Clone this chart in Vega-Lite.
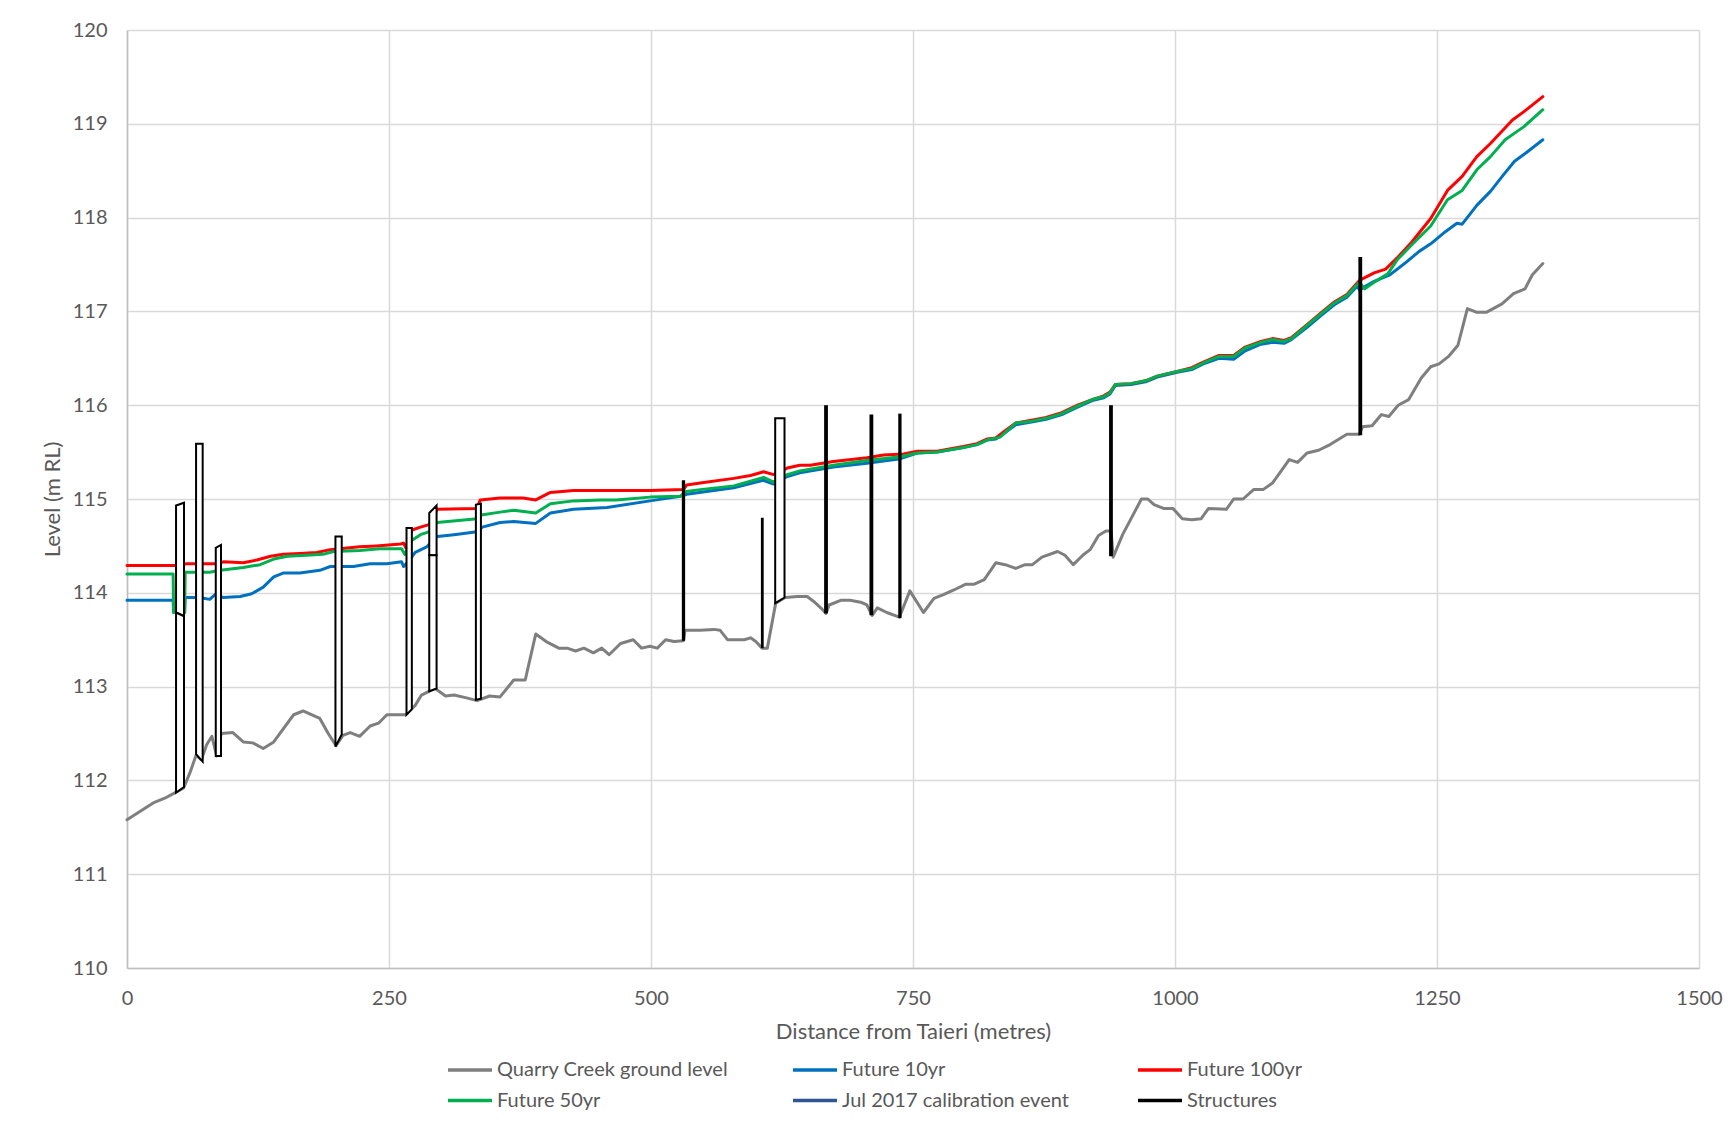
{
  "$schema": "https://vega.github.io/schema/vega-lite/v6.json",
  "width": 1572,
  "height": 938,
  "autosize": {"type": "none"},
  "padding": {"left": 127, "top": 30, "right": 36, "bottom": 162},
  "background": "white",
  "config": {
    "font": "Lato",
    "view": {"stroke": null},
    "axis": {
      "labelFont": "Lato", "titleFont": "Lato",
      "labelColor": "#595959", "titleColor": "#595959",
      "labelFontSize": 20, "titleFontSize": 22, "titleFontWeight": "normal",
      "gridColor": "#d9d9d9", "gridWidth": 1.5,
      "domainColor": "#bfbfbf", "domainWidth": 1.5,
      "ticks": false, "labelFlush": false
    }
  },
  "datasets": {
    "lines": [
      {"series":"Quarry Creek ground level","dist":0,"level":111.58},{"series":"Quarry Creek ground level","dist":25,"level":111.76},{"series":"Quarry Creek ground level","dist":36,"level":111.81},{"series":"Quarry Creek ground level","dist":46,"level":111.87},{"series":"Quarry Creek ground level","dist":54,"level":111.92},{"series":"Quarry Creek ground level","dist":60,"level":112.08},{"series":"Quarry Creek ground level","dist":66,"level":112.27},{"series":"Quarry Creek ground level","dist":71,"level":112.22},{"series":"Quarry Creek ground level","dist":76,"level":112.38},{"series":"Quarry Creek ground level","dist":81,"level":112.47},{"series":"Quarry Creek ground level","dist":85.6,"level":112.26},{"series":"Quarry Creek ground level","dist":90,"level":112.5},{"series":"Quarry Creek ground level","dist":101,"level":112.51},{"series":"Quarry Creek ground level","dist":111,"level":112.41},{"series":"Quarry Creek ground level","dist":120,"level":112.4},{"series":"Quarry Creek ground level","dist":130,"level":112.34},{"series":"Quarry Creek ground level","dist":140,"level":112.41},{"series":"Quarry Creek ground level","dist":159,"level":112.7},{"series":"Quarry Creek ground level","dist":168,"level":112.74},{"series":"Quarry Creek ground level","dist":176,"level":112.7},{"series":"Quarry Creek ground level","dist":184,"level":112.66},{"series":"Quarry Creek ground level","dist":192,"level":112.5},{"series":"Quarry Creek ground level","dist":199.5,"level":112.37},{"series":"Quarry Creek ground level","dist":206,"level":112.48},{"series":"Quarry Creek ground level","dist":213,"level":112.51},{"series":"Quarry Creek ground level","dist":222,"level":112.47},{"series":"Quarry Creek ground level","dist":232,"level":112.58},{"series":"Quarry Creek ground level","dist":240,"level":112.61},{"series":"Quarry Creek ground level","dist":248,"level":112.7},{"series":"Quarry Creek ground level","dist":256,"level":112.7},{"series":"Quarry Creek ground level","dist":266,"level":112.7},{"series":"Quarry Creek ground level","dist":275,"level":112.8},{"series":"Quarry Creek ground level","dist":281,"level":112.91},{"series":"Quarry Creek ground level","dist":290,"level":112.96},{"series":"Quarry Creek ground level","dist":294,"level":112.98},{"series":"Quarry Creek ground level","dist":304,"level":112.9},{"series":"Quarry Creek ground level","dist":312,"level":112.91},{"series":"Quarry Creek ground level","dist":324,"level":112.88},{"series":"Quarry Creek ground level","dist":334,"level":112.85},{"series":"Quarry Creek ground level","dist":346,"level":112.9},{"series":"Quarry Creek ground level","dist":356,"level":112.89},{"series":"Quarry Creek ground level","dist":369,"level":113.07},{"series":"Quarry Creek ground level","dist":380,"level":113.07},{"series":"Quarry Creek ground level","dist":390,"level":113.56},{"series":"Quarry Creek ground level","dist":400,"level":113.48},{"series":"Quarry Creek ground level","dist":412,"level":113.41},{"series":"Quarry Creek ground level","dist":420,"level":113.41},{"series":"Quarry Creek ground level","dist":428,"level":113.38},{"series":"Quarry Creek ground level","dist":436,"level":113.41},{"series":"Quarry Creek ground level","dist":445,"level":113.36},{"series":"Quarry Creek ground level","dist":453,"level":113.41},{"series":"Quarry Creek ground level","dist":460,"level":113.34},{"series":"Quarry Creek ground level","dist":471,"level":113.46},{"series":"Quarry Creek ground level","dist":483,"level":113.5},{"series":"Quarry Creek ground level","dist":491,"level":113.41},{"series":"Quarry Creek ground level","dist":499,"level":113.43},{"series":"Quarry Creek ground level","dist":506,"level":113.41},{"series":"Quarry Creek ground level","dist":514,"level":113.5},{"series":"Quarry Creek ground level","dist":522,"level":113.48},{"series":"Quarry Creek ground level","dist":531,"level":113.49},{"series":"Quarry Creek ground level","dist":532.5,"level":113.6},{"series":"Quarry Creek ground level","dist":547,"level":113.6},{"series":"Quarry Creek ground level","dist":560,"level":113.61},{"series":"Quarry Creek ground level","dist":566,"level":113.6},{"series":"Quarry Creek ground level","dist":573,"level":113.5},{"series":"Quarry Creek ground level","dist":580,"level":113.5},{"series":"Quarry Creek ground level","dist":589,"level":113.5},{"series":"Quarry Creek ground level","dist":595,"level":113.52},{"series":"Quarry Creek ground level","dist":600,"level":113.48},{"series":"Quarry Creek ground level","dist":606,"level":113.41},{"series":"Quarry Creek ground level","dist":611,"level":113.41},{"series":"Quarry Creek ground level","dist":619,"level":113.89},{"series":"Quarry Creek ground level","dist":628,"level":113.95},{"series":"Quarry Creek ground level","dist":640,"level":113.96},{"series":"Quarry Creek ground level","dist":649,"level":113.96},{"series":"Quarry Creek ground level","dist":655,"level":113.91},{"series":"Quarry Creek ground level","dist":662,"level":113.84},{"series":"Quarry Creek ground level","dist":667,"level":113.78},{"series":"Quarry Creek ground level","dist":670,"level":113.87},{"series":"Quarry Creek ground level","dist":681,"level":113.92},{"series":"Quarry Creek ground level","dist":690,"level":113.92},{"series":"Quarry Creek ground level","dist":700,"level":113.9},{"series":"Quarry Creek ground level","dist":706,"level":113.87},{"series":"Quarry Creek ground level","dist":711,"level":113.76},{"series":"Quarry Creek ground level","dist":716,"level":113.84},{"series":"Quarry Creek ground level","dist":725,"level":113.79},{"series":"Quarry Creek ground level","dist":737,"level":113.74},{"series":"Quarry Creek ground level","dist":747,"level":114.02},{"series":"Quarry Creek ground level","dist":760,"level":113.79},{"series":"Quarry Creek ground level","dist":770,"level":113.94},{"series":"Quarry Creek ground level","dist":779,"level":113.98},{"series":"Quarry Creek ground level","dist":789,"level":114.03},{"series":"Quarry Creek ground level","dist":800,"level":114.09},{"series":"Quarry Creek ground level","dist":808,"level":114.09},{"series":"Quarry Creek ground level","dist":818,"level":114.14},{"series":"Quarry Creek ground level","dist":829,"level":114.32},{"series":"Quarry Creek ground level","dist":838,"level":114.3},{"series":"Quarry Creek ground level","dist":848,"level":114.26},{"series":"Quarry Creek ground level","dist":857,"level":114.3},{"series":"Quarry Creek ground level","dist":864,"level":114.3},{"series":"Quarry Creek ground level","dist":873,"level":114.38},{"series":"Quarry Creek ground level","dist":888,"level":114.44},{"series":"Quarry Creek ground level","dist":895,"level":114.4},{"series":"Quarry Creek ground level","dist":903,"level":114.3},{"series":"Quarry Creek ground level","dist":912,"level":114.4},{"series":"Quarry Creek ground level","dist":919,"level":114.46},{"series":"Quarry Creek ground level","dist":927,"level":114.61},{"series":"Quarry Creek ground level","dist":934,"level":114.66},{"series":"Quarry Creek ground level","dist":939,"level":114.66},{"series":"Quarry Creek ground level","dist":941,"level":114.38},{"series":"Quarry Creek ground level","dist":950,"level":114.62},{"series":"Quarry Creek ground level","dist":968,"level":115.0},{"series":"Quarry Creek ground level","dist":974,"level":115.0},{"series":"Quarry Creek ground level","dist":980,"level":114.94},{"series":"Quarry Creek ground level","dist":989,"level":114.9},{"series":"Quarry Creek ground level","dist":998,"level":114.9},{"series":"Quarry Creek ground level","dist":1007,"level":114.79},{"series":"Quarry Creek ground level","dist":1016,"level":114.78},{"series":"Quarry Creek ground level","dist":1025,"level":114.79},{"series":"Quarry Creek ground level","dist":1032,"level":114.9},{"series":"Quarry Creek ground level","dist":1049,"level":114.89},{"series":"Quarry Creek ground level","dist":1056,"level":115.0},{"series":"Quarry Creek ground level","dist":1065,"level":115.0},{"series":"Quarry Creek ground level","dist":1075,"level":115.1},{"series":"Quarry Creek ground level","dist":1084,"level":115.1},{"series":"Quarry Creek ground level","dist":1093,"level":115.17},{"series":"Quarry Creek ground level","dist":1109,"level":115.42},{"series":"Quarry Creek ground level","dist":1117,"level":115.39},{"series":"Quarry Creek ground level","dist":1126,"level":115.49},{"series":"Quarry Creek ground level","dist":1137,"level":115.52},{"series":"Quarry Creek ground level","dist":1148,"level":115.58},{"series":"Quarry Creek ground level","dist":1164,"level":115.69},{"series":"Quarry Creek ground level","dist":1176,"level":115.69},{"series":"Quarry Creek ground level","dist":1179,"level":115.77},{"series":"Quarry Creek ground level","dist":1188,"level":115.78},{"series":"Quarry Creek ground level","dist":1197,"level":115.9},{"series":"Quarry Creek ground level","dist":1204,"level":115.88},{"series":"Quarry Creek ground level","dist":1213,"level":116.0},{"series":"Quarry Creek ground level","dist":1223,"level":116.06},{"series":"Quarry Creek ground level","dist":1235,"level":116.29},{"series":"Quarry Creek ground level","dist":1244,"level":116.41},{"series":"Quarry Creek ground level","dist":1252,"level":116.44},{"series":"Quarry Creek ground level","dist":1261,"level":116.52},{"series":"Quarry Creek ground level","dist":1270,"level":116.64},{"series":"Quarry Creek ground level","dist":1279,"level":117.03},{"series":"Quarry Creek ground level","dist":1288,"level":116.99},{"series":"Quarry Creek ground level","dist":1297,"level":116.99},{"series":"Quarry Creek ground level","dist":1312,"level":117.08},{"series":"Quarry Creek ground level","dist":1323,"level":117.19},{"series":"Quarry Creek ground level","dist":1334,"level":117.24},{"series":"Quarry Creek ground level","dist":1341,"level":117.39},{"series":"Quarry Creek ground level","dist":1351,"level":117.51},

      {"series":"Future 10yr","dist":0,"level":113.92},{"series":"Future 10yr","dist":44,"level":113.92},{"series":"Future 10yr","dist":44.5,"level":113.79},{"series":"Future 10yr","dist":55,"level":113.79},{"series":"Future 10yr","dist":55.5,"level":113.95},{"series":"Future 10yr","dist":69,"level":113.95},{"series":"Future 10yr","dist":79,"level":113.93},{"series":"Future 10yr","dist":84,"level":113.98},{"series":"Future 10yr","dist":92,"level":113.95},{"series":"Future 10yr","dist":108,"level":113.96},{"series":"Future 10yr","dist":119,"level":113.99},{"series":"Future 10yr","dist":130,"level":114.06},{"series":"Future 10yr","dist":140,"level":114.17},{"series":"Future 10yr","dist":149,"level":114.21},{"series":"Future 10yr","dist":165,"level":114.21},{"series":"Future 10yr","dist":184,"level":114.24},{"series":"Future 10yr","dist":194,"level":114.28},{"series":"Future 10yr","dist":216,"level":114.28},{"series":"Future 10yr","dist":232,"level":114.31},{"series":"Future 10yr","dist":248,"level":114.31},{"series":"Future 10yr","dist":262,"level":114.33},{"series":"Future 10yr","dist":264,"level":114.28},{"series":"Future 10yr","dist":269,"level":114.34},{"series":"Future 10yr","dist":275,"level":114.43},{"series":"Future 10yr","dist":286,"level":114.49},{"series":"Future 10yr","dist":296,"level":114.6},{"series":"Future 10yr","dist":312,"level":114.62},{"series":"Future 10yr","dist":334,"level":114.65},{"series":"Future 10yr","dist":339,"level":114.7},{"series":"Future 10yr","dist":356,"level":114.75},{"series":"Future 10yr","dist":369,"level":114.76},{"series":"Future 10yr","dist":390,"level":114.74},{"series":"Future 10yr","dist":404,"level":114.85},{"series":"Future 10yr","dist":426,"level":114.89},{"series":"Future 10yr","dist":458,"level":114.91},{"series":"Future 10yr","dist":499,"level":114.98},{"series":"Future 10yr","dist":528,"level":115.03},{"series":"Future 10yr","dist":534,"level":115.05},{"series":"Future 10yr","dist":579,"level":115.12},{"series":"Future 10yr","dist":607,"level":115.2},{"series":"Future 10yr","dist":617,"level":115.16},{"series":"Future 10yr","dist":630,"level":115.24},{"series":"Future 10yr","dist":642,"level":115.28},{"series":"Future 10yr","dist":674,"level":115.34},{"series":"Future 10yr","dist":706,"level":115.38},{"series":"Future 10yr","dist":738,"level":115.43},{"series":"Future 10yr","dist":754,"level":115.49},{"series":"Future 10yr","dist":773,"level":115.5},{"series":"Future 10yr","dist":798,"level":115.55},{"series":"Future 10yr","dist":811,"level":115.58},{"series":"Future 10yr","dist":821,"level":115.63},{"series":"Future 10yr","dist":829,"level":115.64},{"series":"Future 10yr","dist":837,"level":115.7},{"series":"Future 10yr","dist":848,"level":115.79},{"series":"Future 10yr","dist":863,"level":115.82},{"series":"Future 10yr","dist":877,"level":115.85},{"series":"Future 10yr","dist":892,"level":115.9},{"series":"Future 10yr","dist":907,"level":115.98},{"series":"Future 10yr","dist":921,"level":116.05},{"series":"Future 10yr","dist":932,"level":116.08},{"series":"Future 10yr","dist":938,"level":116.12},{"series":"Future 10yr","dist":943,"level":116.21},{"series":"Future 10yr","dist":958,"level":116.22},{"series":"Future 10yr","dist":972,"level":116.25},{"series":"Future 10yr","dist":983,"level":116.3},{"series":"Future 10yr","dist":1002,"level":116.35},{"series":"Future 10yr","dist":1016,"level":116.38},{"series":"Future 10yr","dist":1027,"level":116.44},{"series":"Future 10yr","dist":1042,"level":116.5},{"series":"Future 10yr","dist":1056,"level":116.49},{"series":"Future 10yr","dist":1067,"level":116.58},{"series":"Future 10yr","dist":1082,"level":116.65},{"series":"Future 10yr","dist":1093,"level":116.67},{"series":"Future 10yr","dist":1104,"level":116.66},{"series":"Future 10yr","dist":1111,"level":116.7},{"series":"Future 10yr","dist":1126,"level":116.83},{"series":"Future 10yr","dist":1141,"level":116.97},{"series":"Future 10yr","dist":1152,"level":117.07},{"series":"Future 10yr","dist":1164,"level":117.15},{"series":"Future 10yr","dist":1174,"level":117.27},{"series":"Future 10yr","dist":1176,"level":117.23},{"series":"Future 10yr","dist":1190,"level":117.32},{"series":"Future 10yr","dist":1205,"level":117.39},{"series":"Future 10yr","dist":1219,"level":117.51},{"series":"Future 10yr","dist":1233,"level":117.64},{"series":"Future 10yr","dist":1244,"level":117.72},{"series":"Future 10yr","dist":1258,"level":117.85},{"series":"Future 10yr","dist":1269,"level":117.94},{"series":"Future 10yr","dist":1274,"level":117.93},{"series":"Future 10yr","dist":1288,"level":118.13},{"series":"Future 10yr","dist":1301,"level":118.28},{"series":"Future 10yr","dist":1313,"level":118.45},{"series":"Future 10yr","dist":1324,"level":118.6},{"series":"Future 10yr","dist":1336,"level":118.7},{"series":"Future 10yr","dist":1351,"level":118.83},

      {"series":"Future 100yr","dist":0,"level":114.29},{"series":"Future 100yr","dist":46,"level":114.29},{"series":"Future 100yr","dist":57,"level":114.31},{"series":"Future 100yr","dist":86,"level":114.31},{"series":"Future 100yr","dist":92,"level":114.33},{"series":"Future 100yr","dist":111,"level":114.32},{"series":"Future 100yr","dist":124,"level":114.35},{"series":"Future 100yr","dist":137,"level":114.39},{"series":"Future 100yr","dist":149,"level":114.41},{"series":"Future 100yr","dist":165,"level":114.42},{"series":"Future 100yr","dist":181,"level":114.43},{"series":"Future 100yr","dist":194,"level":114.46},{"series":"Future 100yr","dist":203,"level":114.47},{"series":"Future 100yr","dist":222,"level":114.49},{"series":"Future 100yr","dist":238,"level":114.5},{"series":"Future 100yr","dist":261,"level":114.52},{"series":"Future 100yr","dist":264,"level":114.53},{"series":"Future 100yr","dist":266,"level":114.48},{"series":"Future 100yr","dist":272,"level":114.67},{"series":"Future 100yr","dist":280,"level":114.7},{"series":"Future 100yr","dist":289,"level":114.73},{"series":"Future 100yr","dist":296,"level":114.89},{"series":"Future 100yr","dist":334,"level":114.9},{"series":"Future 100yr","dist":337,"level":114.99},{"series":"Future 100yr","dist":356,"level":115.01},{"series":"Future 100yr","dist":378,"level":115.01},{"series":"Future 100yr","dist":390,"level":114.99},{"series":"Future 100yr","dist":404,"level":115.07},{"series":"Future 100yr","dist":426,"level":115.09},{"series":"Future 100yr","dist":452,"level":115.09},{"series":"Future 100yr","dist":499,"level":115.09},{"series":"Future 100yr","dist":531,"level":115.1},{"series":"Future 100yr","dist":534,"level":115.15},{"series":"Future 100yr","dist":547,"level":115.17},{"series":"Future 100yr","dist":579,"level":115.22},{"series":"Future 100yr","dist":595,"level":115.25},{"series":"Future 100yr","dist":607.5,"level":115.29},{"series":"Future 100yr","dist":617,"level":115.26},{"series":"Future 100yr","dist":630,"level":115.33},{"series":"Future 100yr","dist":642,"level":115.36},{"series":"Future 100yr","dist":652,"level":115.36},{"series":"Future 100yr","dist":674,"level":115.4},{"series":"Future 100yr","dist":706,"level":115.44},{"series":"Future 100yr","dist":722,"level":115.47},{"series":"Future 100yr","dist":741,"level":115.48},{"series":"Future 100yr","dist":754,"level":115.51},{"series":"Future 100yr","dist":773,"level":115.51},{"series":"Future 100yr","dist":798,"level":115.56},{"series":"Future 100yr","dist":811,"level":115.59},{"series":"Future 100yr","dist":821,"level":115.64},{"series":"Future 100yr","dist":829,"level":115.65},{"series":"Future 100yr","dist":837,"level":115.72},{"series":"Future 100yr","dist":848,"level":115.81},{"series":"Future 100yr","dist":863,"level":115.84},{"series":"Future 100yr","dist":877,"level":115.87},{"series":"Future 100yr","dist":892,"level":115.92},{"series":"Future 100yr","dist":907,"level":116.0},{"series":"Future 100yr","dist":921,"level":116.06},{"series":"Future 100yr","dist":932,"level":116.1},{"series":"Future 100yr","dist":938,"level":116.14},{"series":"Future 100yr","dist":943,"level":116.22},{"series":"Future 100yr","dist":958,"level":116.23},{"series":"Future 100yr","dist":972,"level":116.26},{"series":"Future 100yr","dist":983,"level":116.31},{"series":"Future 100yr","dist":1002,"level":116.36},{"series":"Future 100yr","dist":1016,"level":116.4},{"series":"Future 100yr","dist":1027,"level":116.46},{"series":"Future 100yr","dist":1042,"level":116.53},{"series":"Future 100yr","dist":1056,"level":116.53},{"series":"Future 100yr","dist":1067,"level":116.62},{"series":"Future 100yr","dist":1082,"level":116.68},{"series":"Future 100yr","dist":1093,"level":116.71},{"series":"Future 100yr","dist":1104,"level":116.69},{"series":"Future 100yr","dist":1111,"level":116.72},{"series":"Future 100yr","dist":1126,"level":116.86},{"series":"Future 100yr","dist":1141,"level":117.0},{"series":"Future 100yr","dist":1152,"level":117.1},{"series":"Future 100yr","dist":1164,"level":117.18},{"series":"Future 100yr","dist":1176,"level":117.33},{"series":"Future 100yr","dist":1190,"level":117.41},{"series":"Future 100yr","dist":1201,"level":117.45},{"series":"Future 100yr","dist":1212,"level":117.57},{"series":"Future 100yr","dist":1226,"level":117.74},{"series":"Future 100yr","dist":1244,"level":117.99},{"series":"Future 100yr","dist":1251,"level":118.12},{"series":"Future 100yr","dist":1260,"level":118.29},{"series":"Future 100yr","dist":1274,"level":118.44},{"series":"Future 100yr","dist":1288,"level":118.65},{"series":"Future 100yr","dist":1301,"level":118.79},{"series":"Future 100yr","dist":1322,"level":119.04},{"series":"Future 100yr","dist":1333,"level":119.13},{"series":"Future 100yr","dist":1351,"level":119.29},

      {"series":"Future 50yr","dist":0,"level":114.2},{"series":"Future 50yr","dist":44,"level":114.2},{"series":"Future 50yr","dist":44.5,"level":113.79},{"series":"Future 50yr","dist":55,"level":113.79},{"series":"Future 50yr","dist":55.5,"level":114.22},{"series":"Future 50yr","dist":79,"level":114.22},{"series":"Future 50yr","dist":89,"level":114.24},{"series":"Future 50yr","dist":111,"level":114.27},{"series":"Future 50yr","dist":127,"level":114.3},{"series":"Future 50yr","dist":140,"level":114.36},{"series":"Future 50yr","dist":153,"level":114.39},{"series":"Future 50yr","dist":171,"level":114.4},{"series":"Future 50yr","dist":187,"level":114.41},{"series":"Future 50yr","dist":197,"level":114.44},{"series":"Future 50yr","dist":222,"level":114.45},{"series":"Future 50yr","dist":241,"level":114.47},{"series":"Future 50yr","dist":262,"level":114.47},{"series":"Future 50yr","dist":265,"level":114.41},{"series":"Future 50yr","dist":272,"level":114.56},{"series":"Future 50yr","dist":280,"level":114.62},{"series":"Future 50yr","dist":288,"level":114.65},{"series":"Future 50yr","dist":296,"level":114.75},{"series":"Future 50yr","dist":334,"level":114.79},{"series":"Future 50yr","dist":338,"level":114.83},{"series":"Future 50yr","dist":356,"level":114.86},{"series":"Future 50yr","dist":369,"level":114.88},{"series":"Future 50yr","dist":390,"level":114.85},{"series":"Future 50yr","dist":404,"level":114.95},{"series":"Future 50yr","dist":426,"level":114.98},{"series":"Future 50yr","dist":452,"level":114.99},{"series":"Future 50yr","dist":467,"level":114.99},{"series":"Future 50yr","dist":499,"level":115.02},{"series":"Future 50yr","dist":528,"level":115.03},{"series":"Future 50yr","dist":534,"level":115.08},{"series":"Future 50yr","dist":547,"level":115.1},{"series":"Future 50yr","dist":579,"level":115.14},{"series":"Future 50yr","dist":607.5,"level":115.23},{"series":"Future 50yr","dist":617,"level":115.18},{"series":"Future 50yr","dist":630,"level":115.26},{"series":"Future 50yr","dist":642,"level":115.3},{"series":"Future 50yr","dist":674,"level":115.36},{"series":"Future 50yr","dist":706,"level":115.41},{"series":"Future 50yr","dist":738,"level":115.45},{"series":"Future 50yr","dist":754,"level":115.49},{"series":"Future 50yr","dist":773,"level":115.5},{"series":"Future 50yr","dist":798,"level":115.55},{"series":"Future 50yr","dist":811,"level":115.58},{"series":"Future 50yr","dist":821,"level":115.63},{"series":"Future 50yr","dist":833,"level":115.66},{"series":"Future 50yr","dist":848,"level":115.81},{"series":"Future 50yr","dist":863,"level":115.83},{"series":"Future 50yr","dist":877,"level":115.86},{"series":"Future 50yr","dist":892,"level":115.91},{"series":"Future 50yr","dist":907,"level":115.99},{"series":"Future 50yr","dist":921,"level":116.06},{"series":"Future 50yr","dist":932,"level":116.09},{"series":"Future 50yr","dist":938,"level":116.13},{"series":"Future 50yr","dist":943,"level":116.22},{"series":"Future 50yr","dist":958,"level":116.23},{"series":"Future 50yr","dist":972,"level":116.26},{"series":"Future 50yr","dist":983,"level":116.31},{"series":"Future 50yr","dist":1002,"level":116.36},{"series":"Future 50yr","dist":1016,"level":116.39},{"series":"Future 50yr","dist":1027,"level":116.45},{"series":"Future 50yr","dist":1042,"level":116.52},{"series":"Future 50yr","dist":1056,"level":116.52},{"series":"Future 50yr","dist":1067,"level":116.61},{"series":"Future 50yr","dist":1082,"level":116.67},{"series":"Future 50yr","dist":1093,"level":116.7},{"series":"Future 50yr","dist":1104,"level":116.68},{"series":"Future 50yr","dist":1111,"level":116.71},{"series":"Future 50yr","dist":1126,"level":116.85},{"series":"Future 50yr","dist":1141,"level":116.99},{"series":"Future 50yr","dist":1152,"level":117.09},{"series":"Future 50yr","dist":1164,"level":117.17},{"series":"Future 50yr","dist":1176,"level":117.31},{"series":"Future 50yr","dist":1181,"level":117.24},{"series":"Future 50yr","dist":1190,"level":117.31},{"series":"Future 50yr","dist":1203,"level":117.4},{"series":"Future 50yr","dist":1212,"level":117.55},{"series":"Future 50yr","dist":1226,"level":117.71},{"series":"Future 50yr","dist":1244,"level":117.91},{"series":"Future 50yr","dist":1260,"level":118.19},{"series":"Future 50yr","dist":1274,"level":118.29},{"series":"Future 50yr","dist":1288,"level":118.51},{"series":"Future 50yr","dist":1301,"level":118.65},{"series":"Future 50yr","dist":1315,"level":118.83},{"series":"Future 50yr","dist":1333,"level":118.97},{"series":"Future 50yr","dist":1351,"level":119.15}
    ],
    "boxes": [
      {"id":"s1a","dist":46.8,"top":114.93,"bottom":113.79},{"id":"s1a","dist":54.4,"top":114.96,"bottom":113.75},
      {"id":"s1b","dist":46.8,"top":113.79,"bottom":111.87},{"id":"s1b","dist":54.4,"top":113.75,"bottom":111.93},
      {"id":"s2","dist":65.9,"top":115.59,"bottom":112.28},{"id":"s2","dist":72.2,"top":115.59,"bottom":112.2},
      {"id":"s3","dist":84.7,"top":114.48,"bottom":112.26},{"id":"s3","dist":89.7,"top":114.51,"bottom":112.26},
      {"id":"s4","dist":198.9,"top":114.6,"bottom":112.36},{"id":"s4","dist":204.9,"top":114.6,"bottom":112.49},
      {"id":"s5","dist":266.7,"top":114.69,"bottom":112.7},{"id":"s5","dist":271.8,"top":114.69,"bottom":112.76},
      {"id":"s6a","dist":288.4,"top":114.85,"bottom":114.4},{"id":"s6a","dist":295.4,"top":114.93,"bottom":114.4},
      {"id":"s6b","dist":288.4,"top":114.4,"bottom":112.95},{"id":"s6b","dist":295.4,"top":114.4,"bottom":112.98},
      {"id":"s7","dist":332.9,"top":114.94,"bottom":112.86},{"id":"s7","dist":337.7,"top":114.95,"bottom":112.87},
      {"id":"s10","dist":618.5,"top":115.86,"bottom":113.89},{"id":"s10","dist":627.4,"top":115.86,"bottom":113.95}
    ],
    "rules": [
      {"id":"s8","dist":531,"low":113.49,"high":115.2,"kind":"medium"},
      {"id":"s9","dist":606.2,"low":113.41,"high":114.8,"kind":"thin"},
      {"id":"s11","dist":667,"low":113.78,"high":116.0,"kind":"thick"},
      {"id":"s12","dist":710.3,"low":113.76,"high":115.9,"kind":"thick"},
      {"id":"s13","dist":737.5,"low":113.73,"high":115.91,"kind":"medium"},
      {"id":"s14","dist":938.9,"low":114.39,"high":116.0,"kind":"thick"},
      {"id":"s15","dist":1176.8,"low":115.68,"high":117.58,"kind":"thick"}
    ]
  },
  "layer": [
    {
      "data": {"name": "lines"},
      "transform": [{"filter": "datum.series === 'Quarry Creek ground level'"}],
      "mark": {"type": "line", "strokeWidth": 3, "strokeJoin": "round", "strokeCap": "round"},
      "encoding": {
        "x": {"field": "dist", "type": "quantitative", "scale": {"domain": [0, 1500], "nice": false},
              "axis": {"values": [0, 250, 500, 750, 1000, 1250, 1500], "format": "d", "labelPadding": 20, "titlePadding": 13, "grid": true, "labelFlush": false},
              "title": "Distance from Taieri (metres)"},
        "y": {"field": "level", "type": "quantitative", "scale": {"domain": [110, 120], "nice": false, "zero": false},
              "axis": {"values": [110, 111, 112, 113, 114, 115, 116, 117, 118, 119, 120], "format": "d", "labelPadding": 20, "titlePadding": 8, "grid": true, "labelFlush": false},
              "title": "Level (m RL)"},
        "color": {"field": "series", "type": "nominal",
          "scale": {"domain": ["Quarry Creek ground level", "Future 10yr", "Future 100yr", "Future 50yr", "Jul 2017 calibration event", "Structures"],
                    "range": ["#7f7f7f", "#0070c0", "#ff0000", "#00b050", "#2f5597", "#000000"]},
          "legend": {"orient": "none", "legendX": 330, "legendY": 1027, "direction": "horizontal", "columns": 3, "gridAlign": "all",
                     "columnPadding": 57, "rowPadding": 7.5, "symbolType": "M-2,0H2", "symbolSize": 484, "symbolStrokeWidth": 3.5,
                     "labelFontSize": 20, "labelFont": "Lato", "labelColor": "#595959", "labelLimit": 500, "labelOffset": 14,
                     "title": null, "padding": 0}}
      }
    },
    {
      "data": {"name": "lines"},
      "transform": [{"filter": "datum.series === 'Future 10yr'"}],
      "mark": {"type": "line", "strokeWidth": 3, "strokeJoin": "round", "strokeCap": "round"},
      "encoding": {
        "x": {"field": "dist", "type": "quantitative", "title": "Distance from Taieri (metres)"},
        "y": {"field": "level", "type": "quantitative", "title": "Level (m RL)"},
        "color": {"field": "series", "type": "nominal"}
      }
    },
    {
      "data": {"name": "lines"},
      "transform": [{"filter": "datum.series === 'Future 100yr'"}],
      "mark": {"type": "line", "strokeWidth": 3, "strokeJoin": "round", "strokeCap": "round"},
      "encoding": {
        "x": {"field": "dist", "type": "quantitative", "title": "Distance from Taieri (metres)"},
        "y": {"field": "level", "type": "quantitative", "title": "Level (m RL)"},
        "color": {"field": "series", "type": "nominal"}
      }
    },
    {
      "data": {"name": "lines"},
      "transform": [{"filter": "datum.series === 'Future 50yr'"}],
      "mark": {"type": "line", "strokeWidth": 3, "strokeJoin": "round", "strokeCap": "round"},
      "encoding": {
        "x": {"field": "dist", "type": "quantitative", "title": "Distance from Taieri (metres)"},
        "y": {"field": "level", "type": "quantitative", "title": "Level (m RL)"},
        "color": {"field": "series", "type": "nominal"}
      }
    },
    {
      "data": {"name": "boxes"},
      "mark": {"type": "area", "fill": "white", "stroke": "black", "strokeWidth": 2, "fillOpacity": 1},
      "encoding": {
        "x": {"field": "dist", "type": "quantitative", "title": "Distance from Taieri (metres)"},
        "y": {"field": "top", "type": "quantitative", "title": "Level (m RL)"},
        "y2": {"field": "bottom"},
        "detail": {"field": "id", "type": "nominal"}
      }
    },
    {
      "data": {"name": "rules"},
      "mark": {"type": "rule", "color": "black"},
      "encoding": {
        "x": {"field": "dist", "type": "quantitative", "title": "Distance from Taieri (metres)"},
        "y": {"field": "low", "type": "quantitative", "title": "Level (m RL)"},
        "y2": {"field": "high"},
        "strokeWidth": {"field": "kind", "type": "nominal", "scale": {"domain": ["thick", "medium", "thin"], "range": [3.8, 2.8, 2]}, "legend": null}
      }
    }
  ]
}
